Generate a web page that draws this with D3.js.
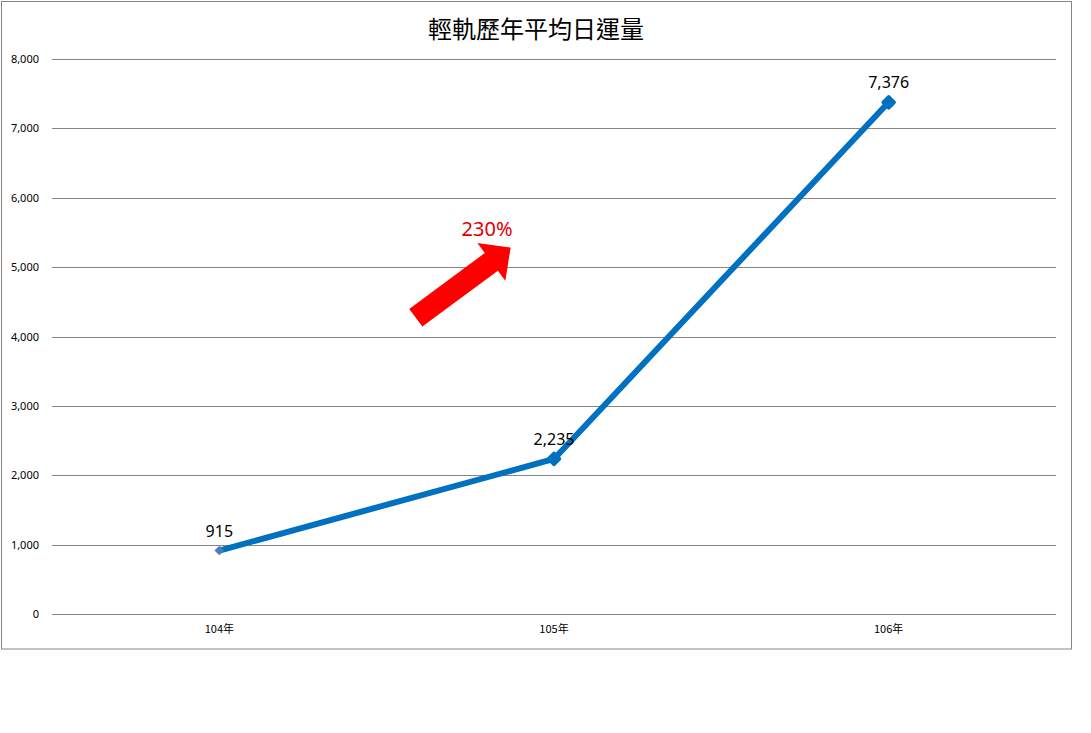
<!DOCTYPE html>
<html>
<head>
<meta charset="utf-8">
<script src="https://cdn.jsdelivr.net/npm/d3@7"></script>
<style>
    body { margin: 0; background: #fff; }
    text { font-family: "Noto Sans", "Noto Sans CJK TC", sans-serif; }
</style>
</head>
<body>
<div id="chart"></div>
<script>
// data
const years = ["104年", "105年", "106年"];
const ridership = [915, 2235, 7376];
const yTicks = [0, 1000, 2000, 3000, 4000, 5000, 6000, 7000, 8000];
const chartTitle = "輕軌歷年平均日運量";
const growthLabel = "230%";

const width = 1091,
    height = 733,
    margin = { left: 52, right: 35, top: 59, bottom: 119 };

const chartWidth = width - margin.left - margin.right;
const chartHeight = height - margin.top - margin.bottom;

const svg = d3.select("#chart").append("svg")
    .attr("width", width)
    .attr("height", height);

// outer frame
svg.append("rect")
    .attr("x", 1.5).attr("y", 1.5)
    .attr("width", 1070).attr("height", 647.5)
    .attr("fill", "none")
    .attr("stroke", "#868686");

svg.append("text")
    .attr("x", 536)
    .attr("y", 38)
    .attr("text-anchor", "middle")
    .style("font-family", "'Noto Sans CJK TC', sans-serif")
    .style("font-size", "24px")
    .text(chartTitle);

const xScale = d3.scaleBand().domain(years).range([0, chartWidth]);
const yScale = d3.scaleLinear().domain([0, 8000]).range([chartHeight, 0]);

const g = svg.append("g")
    .attr("transform", "translate(" + margin.left + "," + margin.top + ")");

// gridlines
g.append("g")
    .selectAll("line")
    .data(yTicks)
    .join("line")
    .attr("x1", 0).attr("x2", chartWidth)
    .attr("y1", (d) => Math.round(yScale(d)) + 0.5)
    .attr("y2", (d) => Math.round(yScale(d)) + 0.5)
    .attr("stroke", "#868686");

// y axis labels
const yAxis = d3.axisLeft(yScale)
    .tickValues(yTicks)
    .tickFormat(d3.format(","))
    .tickSize(0)
    .tickPadding(13);
g.append("g").call(yAxis)
    .call((a) => a.select(".domain").remove())
    .call((a) => a.selectAll("text")
        .style("font-size", "11px")
        .attr("fill", "#000"));

// x axis labels
const xAxis = d3.axisBottom(xScale).tickSize(0).tickPadding(11);
g.append("g")
    .attr("transform", "translate(0," + chartHeight + ")")
    .call(xAxis)
    .call((a) => a.select(".domain").remove())
    .call((a) => a.selectAll("text")
        .style("font-size", "11px")
        .style("font-family", "'Noto Sans CJK TC', sans-serif")
        .attr("fill", "#000"));

const cx = (i) => xScale(years[i]) + xScale.bandwidth() / 2;

// line
const line = d3.line()
    .x((d, i) => cx(i))
    .y((d) => yScale(d));

g.append("path")
    .datum(ridership)
    .attr("d", line)
    .attr("fill", "none")
    .attr("stroke", "#0070c0")
    .attr("stroke-width", 6)
    .attr("stroke-linejoin", "round");

// markers
const diamond = d3.symbol().type(d3.symbolDiamond2);
g.selectAll(".marker")
    .data(ridership)
    .join("path")
    .attr("class", "marker")
    .attr("transform", (d, i) => "translate(" + cx(i) + "," + yScale(d) + ")")
    .attr("d", (d, i) => diamond.size(i === 0 ? 60 : 70)())
    .attr("fill", (d, i) => i === 0 ? "#4a7ebb" : "#0070c0")
    .attr("stroke", (d, i) => i === 0 ? "none" : "#0070c0")
    .attr("stroke-width", 4)
    .attr("stroke-linejoin", "round");

// data labels
g.selectAll(".label")
    .data(ridership)
    .join("text")
    .attr("class", "label")
    .attr("x", (d, i) => cx(i))
    .attr("y", (d) => yScale(d) - 14)
    .attr("text-anchor", "middle")
    .style("font-size", "16px")
    .text((d) => d3.format(",")(d));

// growth arrow, placed between the first two years
const arrowLen = 118, shaft = 11, head = 23.5, headLen = 24;
const arrowX = xScale(years[0]) + xScale.bandwidth() * 1.087,
    arrowY = yScale(4270);
g.append("path")
    .attr("transform", "translate(" + arrowX + "," + arrowY + ") rotate(-36.5)")
    .attr("d", "M0," + (-shaft) +
        "L" + (arrowLen - headLen) + "," + (-shaft) +
        "L" + (arrowLen - headLen) + "," + (-head) +
        "L" + arrowLen + ",0" +
        "L" + (arrowLen - headLen) + "," + head +
        "L" + (arrowLen - headLen) + "," + shaft +
        "L0," + shaft + "Z")
    .attr("fill", "#ff0000");

g.append("text")
    .attr("x", xScale(years[0]) + xScale.bandwidth() * 1.3)
    .attr("y", yScale(5450))
    .attr("text-anchor", "middle")
    .attr("fill", "#e00000")
    .style("font-size", "20px")
    .text(growthLabel);
</script>
</body>
</html>
